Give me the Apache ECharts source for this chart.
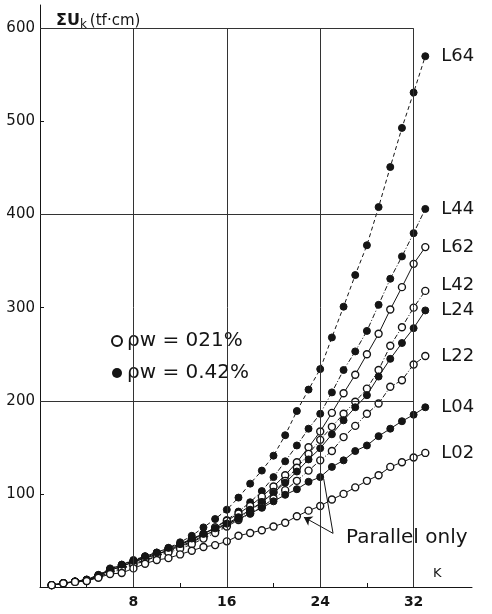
<!DOCTYPE html>
<html>
<head>
<meta charset="utf-8">
<script src="https://cdn.jsdelivr.net/npm/echarts@6/dist/echarts.min.js"></script>
<style>
  html, body { margin: 0; padding: 0; background: #fff; }
  #chart { width: 492px; height: 614px; }
</style>
</head>
<body>
<div id="chart"></div>
<script>
// K = 1 .. 33
const kValues = [1,2,3,4,5,6,7,8,9,10,11,12,13,14,15,16,17,18,19,20,21,22,23,24,25,26,27,28,29,30,31,32,33]

// sum U_k (tf.cm)
const L64 = [2,4,6,8,13,20,24,29,33,37,42,48,55,64,73,83,96,111,125,141,163,189,212,234,268,301,335,367,408,451,493,531,570]
const L44 = [2,4,6,7.5,12,19,23,28,32,36,41,46,51,57,64,72,81,91,103,118,135,152,170,186,209,233,253,275,303,331,355,380,406]
const L62 = [2,4,5.5,7,12,18,22,27,31,35,40,45,51,57,64,71,79,87,97,108,120,134,150,167,187,208,228,250,272,298,322,347,365]
const L42 = [2,4,5.5,7,11,16,20,25,29,33,38,43,48,54,60,66,74,82,91,102,114,128,143,158,172,186,199,213,233,259,279,300,318]
const L24 = [2,4,6,7.5,12,18,22,27,31,35,39,44,49,55,61,68,75,83,91,101,112,124,137,149,164,179,193,206,226,245,262,278,297]
const L22 = [2,4,5.5,6.5,11,15,19,24,28,33,37,41,46,52,58,65,72,79,86,95,104,114,125,136,146,161,173,186,197,215,222,239,248]
const L04 = [2,4,6,8,13,19,24,28,33,37,42,46,52,57,63,68,73,79,85,92,99,105,113,118,129,136,146,152,162,170,178,185,193]
const L02 = [2,4,5.5,6.5,10,14,15,20,25,29,31,35,39,43,45,49,55,58,61,65,69,76,82,87,94,100,107,114,120,129,134,139,144]

const xTicks = [8,16,24,32]
const xMinorTicks = [4,8,12,16,20,24,28,32]
const yTicks = [100,200,300,400,500,600]
const yGrid = [200,400,600]

const ink = '#151515'
const legendOpen = 'ρw = 021%'
const legendFull = 'ρw = 0.42%'

const pair = (vals) => kValues.map((k, i) => [k, vals[i]])

const makeSeries = (name, vals, filled, dash, labelOffset) => ({
  name: name,
  type: 'line',
  data: pair(vals),
  symbol: 'circle',
  symbolSize: 7,
  itemStyle: filled
    ? { color: ink, borderColor: ink, borderWidth: 1 }
    : { color: '#fff', borderColor: ink, borderWidth: 1.4 },
  lineStyle: { color: ink, width: 1, type: dash },
  endLabel: {
    show: true,
    formatter: name,
    distance: 16,
    offset: labelOffset || [0, 0],
    color: ink,
    fontSize: 18,
    fontFamily: 'DejaVu Sans'
  },
  z: 3
})

const dashDot = [5, 2, 1, 2]

const gridLines = []
xTicks.forEach((k) => {
  gridLines.push([{ coord: [k, 0] }, { coord: [k, 600] }])
})
yGrid.forEach((v) => {
  gridLines.push([{ coord: [0, v] }, { coord: [32, v] }])
})

const chart = echarts.init(document.getElementById('chart'))
chart.setOption({
  backgroundColor: '#fff',
  animation: false,
  grid: { left: 40, right: 20, top: 5, bottom: 27 },
  xAxis: {
    type: 'value',
    min: 0,
    max: 37,
    interval: 4,
    axisLine: { lineStyle: { color: ink, width: 1 } },
    axisTick: { inside: true, length: 4, lineStyle: { color: ink }, customValues: xMinorTicks },
    splitLine: { show: false },
    axisLabel: {
      color: ink,
      fontSize: 14,
      fontWeight: 'bold',
      fontFamily: 'DejaVu Sans',
      margin: 8,
      customValues: xTicks,
      formatter: (v) => (v > 0 && v % 8 === 0 && v <= 32 ? String(v) : '')
    }
  },
  yAxis: {
    type: 'value',
    min: 0,
    max: 625,
    interval: 100,
    axisLine: { show: true, lineStyle: { color: ink, width: 1 } },
    axisTick: { show: true, inside: true, length: 4, lineStyle: { color: ink }, customValues: yTicks },
    splitLine: { show: false },
    axisLabel: {
      color: ink,
      fontSize: 15,
      fontFamily: 'DejaVu Sans',
      margin: 5,
      customValues: yTicks,
      formatter: (v) => (v > 0 && v % 100 === 0 ? String(v) : '')
    }
  },
  legend: {
    data: [legendOpen, legendFull],
    orient: 'vertical',
    left: 106,
    top: 326,
    icon: 'circle',
    itemWidth: 10,
    itemHeight: 10,
    itemGap: 12,
    textStyle: { color: ink, fontSize: 20, fontFamily: 'DejaVu Sans' }
  },
  graphic: [
    {
      type: 'text',
      left: 56,
      top: 13,
      style: {
        text: '{b|ΣU}{s|k}{n|(tf·cm)}',
        rich: {
          b: { fontSize: 16, fontWeight: 'bold', fill: ink, fontFamily: 'DejaVu Sans' },
          s: { fontSize: 12, fill: ink, padding: [8, 3, 0, 0], fontFamily: 'DejaVu Sans' },
          n: { fontSize: 15, fill: ink, fontFamily: 'DejaVu Sans' }
        }
      }
    },
    {
      type: 'text',
      left: 433,
      top: 567,
      style: { text: 'K', fontSize: 13, fill: ink, fontFamily: 'DejaVu Sans' }
    },
    {
      type: 'text',
      left: 346,
      top: 528,
      style: { text: 'Parallel only', fontSize: 20, fill: ink, fontFamily: 'DejaVu Sans' }
    }
  ],
  series: [
    {
      name: 'grid',
      type: 'line',
      data: [],
      silent: true,
      z: 1,
      markLine: {
        silent: true,
        symbol: 'none',
        label: { show: false },
        lineStyle: { color: '#333', width: 1, type: 'solid' },
        data: gridLines
      }
    },
    makeSeries('L64', L64, true, [4, 3]),
    makeSeries('L44', L44, true, dashDot),
    makeSeries('L62', L62, false, 'solid'),
    makeSeries('L42', L42, false, dashDot, [0, -6]),
    makeSeries('L24', L24, true, 'solid'),
    makeSeries('L22', L22, false, dashDot),
    makeSeries('L04', L04, true, 'solid'),
    Object.assign(makeSeries('L02', L02, false, 'solid'), {
      markLine: {
        silent: true,
        symbol: ['none', 'arrow'],
        symbolSize: 8,
        label: { show: false },
        lineStyle: { color: ink, width: 1, type: 'solid' },
        data: [
          [{ coord: [25.1, 57.6] }, { coord: [22.6, 75] }],
          [{ coord: [25.1, 57.6] }, { coord: [24.3, 116], symbol: 'none' }]
        ]
      }
    }),
    // legend entries for the two steel ratios
    {
      name: legendOpen,
      type: 'line',
      data: [],
      itemStyle: { color: '#fff', borderColor: ink, borderWidth: 1.6 }
    },
    {
      name: legendFull,
      type: 'line',
      data: [],
      itemStyle: { color: ink, borderColor: ink }
    }
  ]
})
</script>
</body>
</html>
